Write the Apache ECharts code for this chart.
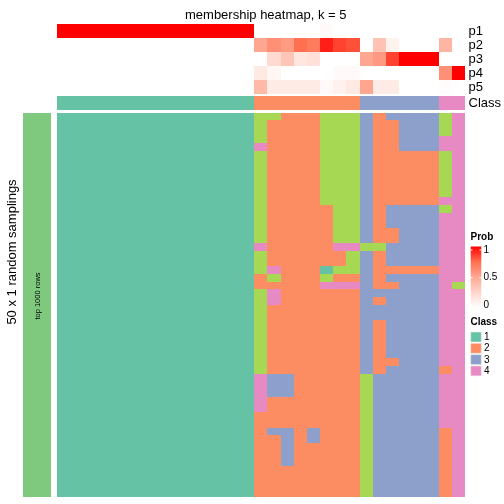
<!DOCTYPE html>
<html><head><meta charset="utf-8">
<script src="https://cdn.jsdelivr.net/npm/echarts@6/dist/echarts.min.js"></script>
<style>html,body{margin:0;padding:0;background:#fff}#c{width:504px;height:504px}</style>
</head><body><div id="c"></div>
<script>
// ---- data ----
const probRows = ['p1','p2','p3','p4','p5'];
const p1 = [1,1,1,1,1,1,1,1,1,1,1,1,1,1,1, 0,0,0,0,0,0.03,0,0,0,0,0,0,0,0,0,0];
const p2 = [0,0,0,0,0,0,0,0,0,0,0,0,0,0,0, 0.5,0.6,0.55,0.75,0.7,0.93,0.85,0.82,0,0.35,0.07,0,0,0,0.42,0];
const p3 = [0,0,0,0,0,0,0,0,0,0,0,0,0,0,0, 0,0.22,0.33,0.15,0.18,0,0,0,0.5,0.56,0.85,1,1,1,0,0];
const p4 = [0,0,0,0,0,0,0,0,0,0,0,0,0,0,0, 0.13,0.05,0,0,0,0,0.03,0.03,0,0,0,0,0,0,0.6,1];
const p5 = [0,0,0,0,0,0,0,0,0,0,0,0,0,0,0, 0.4,0.12,0.12,0.12,0.12,0.03,0.08,0.13,0.5,0.12,0.12,0,0,0,0.02,0];
const classRow = [1,1,1,1,1,1,1,1,1,1,1,1,1,1,1, 2,2,2,2,2,2,2,2, 3,3,3,3,3,3, 4,4];
// 50 random samplings x 31 samples (class per cell)
const samplings = [
"1111111111111115522255532333354",
"1111111111111115222255532233354",
"1111111111111115222255532233354",
"1111111111111115222255532233344",
"1111111111111114222255532233344",
"1111111111111115222255532222254",
"1111111111111115222255532222254",
"1111111111111115222255532222254",
"1111111111111115222255532222254",
"1111111111111115222255532222254",
"1111111111111115222255532222254",
"1111111111111115222255532222244",
"1111111111111115222225532333354",
"1111111111111115222225532333344",
"1111111111111115222225532333344",
"1111111111111115222225532233344",
"1111111111111115222225532233344",
"1111111111111114222224455333344",
"1111111111111115222222532333344",
"1111111111111115222222532333344",
"1111111111111115422215532222244",
"1111111111111112522252232333344",
"1111111111111112222244432233345",
"1111111111111115422222233333344",
"1111111111111115422222232333344",
"1111111111111115222222233333344",
"1111111111111115222222233333344",
"1111111111111115222222232333344",
"1111111111111115222222232333344",
"1111111111111115222222232333344",
"1111111111111115222222232333344",
"1111111111111115222222232333344",
"1111111111111115222222232233344",
"1111111111111115222222232333324",
"1111111111111114332222253333344",
"1111111111111114332222253333344",
"1111111111111114332222253333344",
"1111111111111114222222253333344",
"1111111111111114222222253333344",
"1111111111111112222222253333344",
"1111111111111112222222253333344",
"1111111111111112332322253333324",
"1111111111111112232322253333324",
"1111111111111112232222253333324",
"1111111111111112232222253333324",
"1111111111111112232222253333324",
"1111111111111112222222253333324",
"1111111111111112222222253333324",
"1111111111111112222222253333324",
"1111111111111112222222253333324"
];
const legendClasses = ['1','2','3','4'];
const probTicks = ['1','0.5','0'];

// ---- styles ----
const classColors = {0:'#7FC97F',1:'#66C2A5',2:'#FC8D62',3:'#8DA0CB',4:'#E78AC3',5:'#A6D854'};
const probColors = ['#FFFFFF','#FFD5CA','#FFA690','#FF7050','#FF0000'];
const FONT = 'Liberation Sans, Arial, sans-serif';

const nS = classRow.length;
const sampleIds = Array.from({length:nS},(_,i)=>'s'+(i+1));
const rowIds = samplings.map((_,i)=>'r'+(i+1));

const probData = [];
[p1,p2,p3,p4,p5].forEach((arr,r)=>arr.forEach((v,c)=>probData.push([c,r,v])));
const classData = classRow.map((v,c)=>[c,0,v]);
const bodyData = [];
samplings.forEach((s,r)=>{for(let c=0;c<s.length;c++) bodyData.push([c,r,+s[c]]);});

const L = 56.7, W = 408.3;
const grids = [
  {left:L, width:W, top:24, height:70},
  {left:L, width:W, top:96, height:14},
  {left:L, width:W, top:112.7, height:384},
  {left:22.7, width:28, top:112.7, height:384}
];
const hidX = (gi, data)=>({type:'category', gridIndex:gi, data, show:false});

const snap = v => Math.round(Math.round(v*100)/100);
function renderCell(params, api){
  const c = api.coord([api.value(0), api.value(1)]);
  const s = api.size([1,1]);
  const x0 = snap(c[0]-s[0]/2), x1 = snap(c[0]+s[0]/2);
  const y0 = snap(c[1]-s[1]/2), y1 = snap(c[1]+s[1]/2);
  return {type:'rect', shape:{x:x0, y:y0, width:x1-x0, height:y1-y0},
    style:{fill:api.visual('color'), stroke:null}};
}
const cellSeries = (xi, data)=>({type:'custom', xAxisIndex:xi, yAxisIndex:xi, data,
  encode:{x:0, y:1}, renderItem:renderCell, silent:true, clip:false});

const chart = echarts.init(document.getElementById('c'), null, {renderer:'canvas'});

const legendG = [];
legendG.push({type:'text', left:470.5, top:232, style:{text:'Prob', font:'bold 10px '+FONT, fill:'#000'}});
legendG.push({type:'rect', shape:{x:470.7, y:246.5, width:10.6, height:61},
  style:{fill:new echarts.graphic.LinearGradient(0,0,0,1,[
    {offset:0,color:probColors[4]},{offset:0.25,color:probColors[3]},{offset:0.5,color:probColors[2]},
    {offset:0.75,color:probColors[1]},{offset:1,color:probColors[0]}])}});
[250,277.5].forEach(y=>{
  legendG.push({type:'line', shape:{x1:470.7,y1:y,x2:472.5,y2:y}, style:{stroke:'#fff',lineWidth:1}});
  legendG.push({type:'line', shape:{x1:479.5,y1:y,x2:481.3,y2:y}, style:{stroke:'#fff',lineWidth:1}});
});
probTicks.forEach((t,i)=>legendG.push({type:'text', x:483.5, y:250+i*27.7,
  style:{text:t, font:'10px '+FONT, fill:'#000', textVerticalAlign:'middle', verticalAlign:'middle'}}));
legendG.push({type:'text', left:470.5, top:317, style:{text:'Class', font:'bold 10px '+FONT, fill:'#000'}});
legendClasses.forEach((t,i)=>{
  const y = 332 + i*11.3;
  legendG.push({type:'rect', shape:{x:470.7,y:y,width:10.6,height:10}, style:{fill:classColors[+t], stroke:'#eeeeee', lineWidth:0.6}});
  legendG.push({type:'text', x:484, y:y+5.2, style:{text:t, font:'10px '+FONT, fill:'#000', verticalAlign:'middle', textVerticalAlign:'middle'}});
});

const rightLabels = (gi, data)=>({type:'category', gridIndex:gi, data, inverse:true, position:'right',
  axisLine:{show:false}, axisTick:{show:false}, splitLine:{show:false},
  axisLabel:{margin:3.5, fontSize:13, color:'#000', fontFamily:FONT, interval:0, hideOverlap:false}});

chart.setOption({
  animation:false,
  backgroundColor:'#fff',
  title:{text:'membership heatmap, k = 5', left:180, top:4,
    textStyle:{fontSize:13, fontWeight:'normal', color:'#000', fontFamily:FONT}},
  grid:grids,
  xAxis:[hidX(0,sampleIds),hidX(1,sampleIds),hidX(2,sampleIds),hidX(3,['a'])],
  yAxis:[
    rightLabels(0, probRows),
    rightLabels(1, ['Class']),
    {type:'category', gridIndex:2, data:rowIds, inverse:true, show:false},
    {type:'category', gridIndex:3, data:['b'], show:false}
  ],
  visualMap:[
    {type:'continuous', min:0, max:1, seriesIndex:0, show:false, dimension:2, inRange:{color:probColors}},
    {type:'piecewise', seriesIndex:[1,2,3], show:false, dimension:2,
     pieces:[0,1,2,3,4,5].map(v=>({value:v, color:classColors[v]}))}
  ],
  series:[
    cellSeries(0, probData),
    cellSeries(1, classData),
    cellSeries(2, bodyData),
    cellSeries(3, [[0,0,0]])
  ],
  graphic:[
    {type:'text', x:12, y:252, rotation:Math.PI/2,
     style:{text:'50 x 1 random samplings', font:'13px '+FONT, fill:'#000', align:'center', verticalAlign:'middle', textAlign:'center', textVerticalAlign:'middle'}},
    {type:'text', x:37.5, y:296, rotation:Math.PI/2, z:10,
     style:{text:'top 1000 rows', font:'7.5px '+FONT, fill:'#000', align:'center', verticalAlign:'middle', textAlign:'center', textVerticalAlign:'middle'}},
    ...legendG
  ]
});
</script></body></html>
